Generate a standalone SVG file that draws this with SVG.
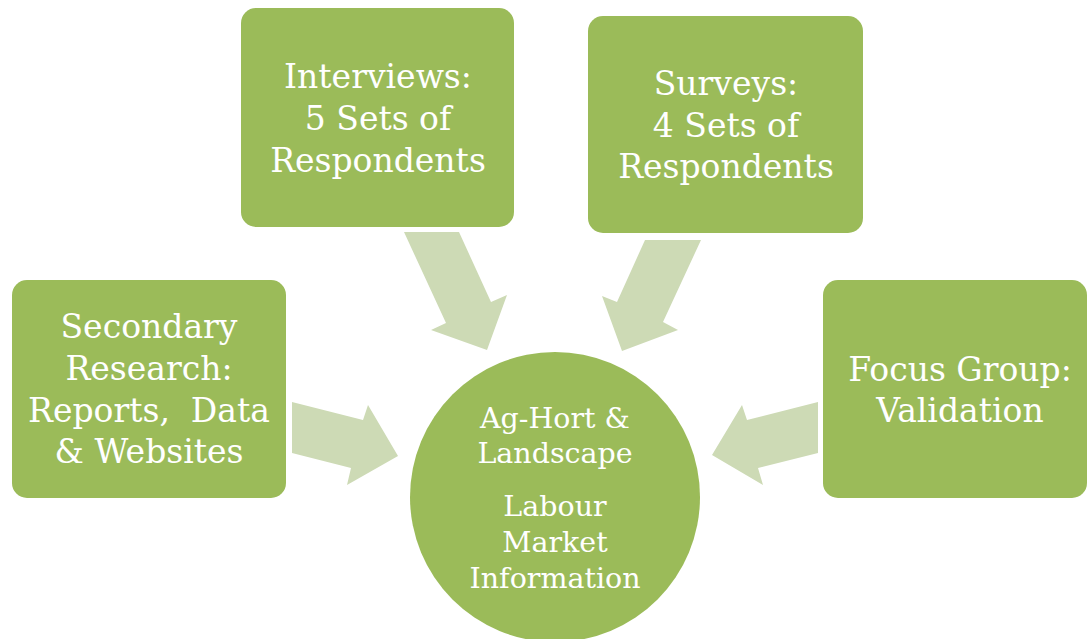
<svg xmlns="http://www.w3.org/2000/svg" width="1090" height="639" viewBox="0 0 1090 639">
  <style>
    .box { fill: #9BBB59; }
    .arrow { fill: #CDDAB5; }
    .lbl { fill: #FFFFFF; font-family: "DejaVu Serif", "Liberation Serif", serif; text-anchor: middle; }
    .big { font-size: 33px; }
    .mid { font-size: 28.5px; }
  </style>
  <rect width="1090" height="639" fill="#FFFFFF"/>

  <!-- block arrows pointing into the hub -->
  <g id="connectors">
    <polygon class="arrow" points="292,402 363,420 368,405 398,456 347,485 351,468 292,453"/>
    <polygon class="arrow" points="404,232 459,232 491,302 507,295 487,350 431,330 446,323"/>
    <polygon class="arrow" points="645,240 701,240 663,322 678,330 622,351 602,296 617,302"/>
    <polygon class="arrow" points="818,402 747,420 742,405 712,455 763,485 758,468 818,453"/>
  </g>

  <g id="hub">
    <circle class="box" cx="555" cy="497" r="145"/>
    <text class="lbl mid" x="555" y="428">Ag-Hort &amp;</text>
    <text class="lbl mid" x="555" y="463">Landscape</text>
    <text class="lbl mid" x="555" y="516">Labour</text>
    <text class="lbl mid" x="555" y="552">Market</text>
    <text class="lbl mid" x="555" y="588">Information</text>
  </g>

  <g id="secondary-research">
    <rect class="box" x="12" y="280" width="274" height="218" rx="15"/>
    <text class="lbl big" x="149" y="338">Secondary</text>
    <text class="lbl big" x="149" y="380">Research:</text>
    <text class="lbl big" x="149" y="422" xml:space="preserve">Reports,  Data</text>
    <text class="lbl big" x="149" y="463">&amp; Websites</text>
  </g>

  <g id="interviews">
    <rect class="box" x="241" y="8" width="273" height="219" rx="15"/>
    <text class="lbl big" x="378" y="88">Interviews:</text>
    <text class="lbl big" x="378" y="130">5 Sets of</text>
    <text class="lbl big" x="378" y="172">Respondents</text>
  </g>

  <g id="surveys">
    <rect class="box" x="588" y="16" width="275" height="217" rx="15"/>
    <text class="lbl big" x="726" y="95">Surveys:</text>
    <text class="lbl big" x="726" y="137">4 Sets of</text>
    <text class="lbl big" x="726" y="178">Respondents</text>
  </g>

  <g id="focus-group">
    <rect class="box" x="823" y="280" width="264" height="218" rx="15"/>
    <text class="lbl big" x="960" y="381">Focus Group:</text>
    <text class="lbl big" x="960" y="422">Validation</text>
  </g>
</svg>
